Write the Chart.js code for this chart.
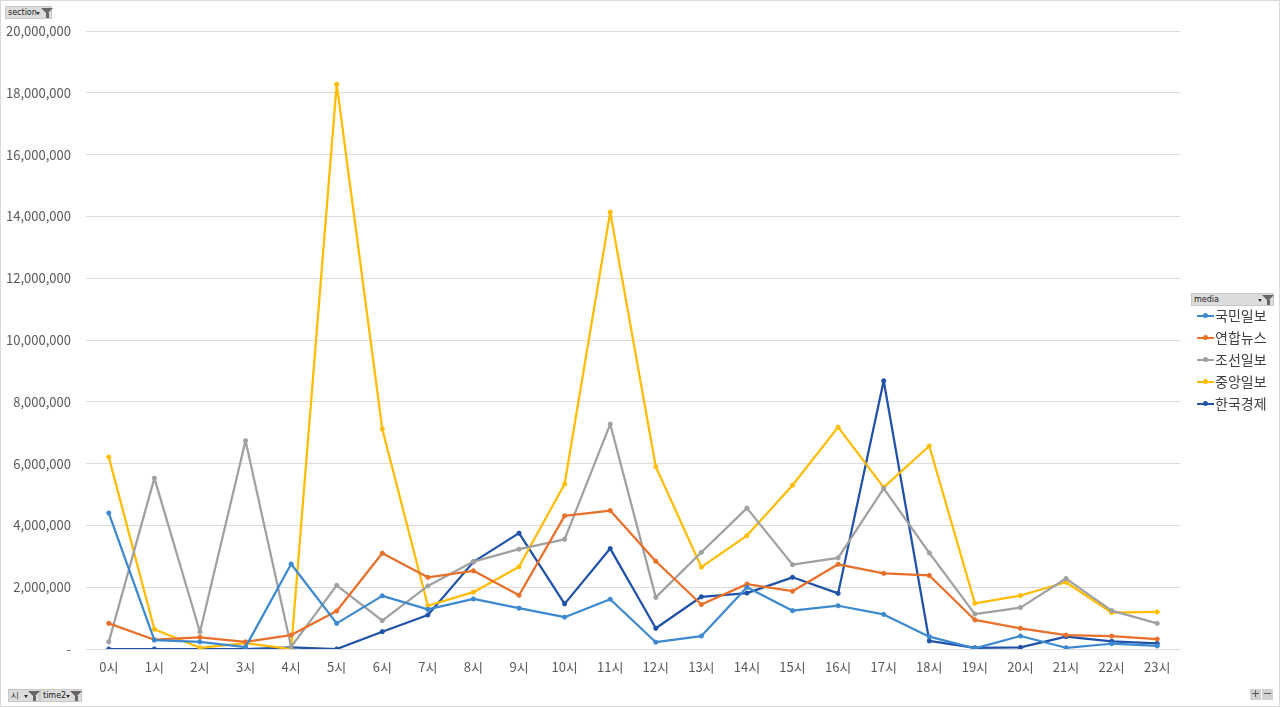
<!DOCTYPE html>
<html><head><meta charset="utf-8">
<script src="https://cdn.jsdelivr.net/npm/chart.js@4.4.1/dist/chart.umd.min.js"></script>
<style>
html,body{margin:0;padding:0;background:#fff;}
#wrap{position:relative;width:1280px;height:707px;box-sizing:border-box;border:1px solid #d9d9d9;overflow:hidden;font-family:"Noto Sans CJK KR","Noto Sans",sans-serif;}
canvas{position:absolute;left:-1px;top:-1px;}
.btn{position:absolute;height:13px;background:#dcdcdc;border:1px solid #c8c8c8;box-sizing:border-box;font-size:8px;line-height:11px;color:#222;padding-left:2px;font-family:"DejaVu Sans",sans-serif;}
.btn .dd{position:absolute;top:5px;width:0;height:0;border-left:2px solid transparent;border-right:2px solid transparent;border-top:3px solid #333;}
.btn .fn{position:absolute;top:1px;width:0;height:0;border-left:6px solid transparent;border-right:6px solid transparent;border-top:6px solid #666;}
.btn .fs{position:absolute;top:6px;width:3px;height:5px;background:#666;}
#legend{position:absolute;left:1192px;top:303px;font-size:14px;color:#404040;}
.li{position:relative;height:22px;line-height:22px;padding-left:22px;white-space:nowrap;}
.li .ln{position:absolute;left:4px;top:11px;width:17px;height:2px;}
.li .dt{position:absolute;left:10px;top:9px;width:5px;height:5px;border-radius:50%;}
.pm{position:absolute;top:688px;width:11px;height:11px;background:#d0d0d0;font-size:11px;line-height:10px;text-align:center;color:#555;font-family:"DejaVu Sans",sans-serif;}
</style></head>
<body><div id="wrap">
<canvas id="c" width="1280" height="707"></canvas>
<div class="btn" style="left:4px;top:5px;width:47px;">section<span class="dd" style="left:30px"></span><span class="fn" style="left:35px"></span><span class="fs" style="left:39.5px"></span></div>
<div class="btn" style="left:1190px;top:292px;width:83px;">media<span class="dd" style="left:66px"></span><span class="fn" style="left:70px"></span><span class="fs" style="left:74.5px"></span></div>
<div class="btn" style="left:7px;top:688px;width:32px;">시<span class="dd" style="left:15px"></span><span class="fn" style="left:19px"></span><span class="fs" style="left:23.5px"></span></div>
<div class="btn" style="left:39px;top:688px;width:42px;">time2<span class="dd" style="left:25px"></span><span class="fn" style="left:29px"></span><span class="fs" style="left:33.5px"></span></div>
<div class="pm" style="left:1249px">+</div><div class="pm" style="left:1261px">−</div>
<div id="legend"></div>
</div>
<script>
const categories = ['0시','1시','2시','3시','4시','5시','6시','7시','8시','9시','10시','11시','12시','13시','14시','15시','16시','17시','18시','19시','20시','21시','22시','23시'];
const seriesNames = ['국민일보','연합뉴스','조선일보','중앙일보','한국경제'];
const kookmin = [4400000,290000,230000,60000,2750000,830000,1720000,1280000,1620000,1320000,1030000,1610000,220000,420000,2000000,1240000,1400000,1120000,400000,20000,420000,40000,170000,100000];
const yonhap = [830000,300000,380000,230000,450000,1230000,3100000,2320000,2530000,1740000,4310000,4480000,2840000,1440000,2100000,1870000,2740000,2450000,2380000,940000,670000,450000,420000,320000];
const chosun = [230000,5530000,550000,6740000,70000,2060000,920000,2040000,2830000,3230000,3550000,7280000,1670000,3130000,4560000,2730000,2950000,5200000,3110000,1130000,1340000,2280000,1240000,830000];
const joongang = [6210000,640000,40000,190000,0,18280000,7120000,1400000,1840000,2660000,5340000,14140000,5900000,2650000,3670000,5300000,7180000,5230000,6570000,1480000,1730000,2160000,1180000,1200000];
const hankyung = [0,0,0,0,50000,0,560000,1100000,2820000,3750000,1460000,3250000,670000,1690000,1810000,2320000,1800000,8680000,260000,40000,50000,400000,250000,180000];
const yTicks = [0,2000000,4000000,6000000,8000000,10000000,12000000,14000000,16000000,18000000,20000000];

const colors = ['#3D89D0','#E8702A','#A0A0A0','#FFBC00','#1F52A8'];
const allData = [kookmin, yonhap, chosun, joongang, hankyung];

const datasets = seriesNames.map((n,i)=>({
  label:n, data:allData[i], borderColor:colors[i], backgroundColor:colors[i],
  borderWidth:2.25, borderJoinStyle:'round', borderCapStyle:'round',
  pointRadius:2.1, pointHoverRadius:2.1, pointBorderWidth:1, tension:0, fill:false
}));

const lg = document.getElementById('legend');
seriesNames.forEach((n,i)=>{
  const d=document.createElement('div'); d.className='li';
  d.innerHTML='<span class="ln" style="background:'+colors[i]+'"></span><span class="dt" style="background:'+colors[i]+'"></span>'+n;
  lg.appendChild(d);
});

new Chart(document.getElementById('c'),{
  type:'line',
  data:{labels:categories, datasets:datasets},
  options:{
    responsive:false, animation:false, devicePixelRatio:1,
    layout:{padding:{top:31,right:100,bottom:0,left:0}},
    plugins:{legend:{display:false},tooltip:{enabled:false}},
    scales:{
      x:{
        offset:true,
        grid:{display:false,drawTicks:false},
        border:{display:false},
        ticks:{padding:10,color:'#595959',font:{family:'"Noto Sans CJK KR"',size:13},maxRotation:0,autoSkip:false},
        afterFit:(s)=>{s.height=58;}
      },
      y:{
        min:0,max:20000000,
        afterBuildTicks:(s)=>{s.ticks=yTicks.map(v=>({value:v}));},
        grid:{color:'#dcdcdc',lineWidth:1,drawTicks:false},
        border:{display:false},
        ticks:{padding:15,color:'#595959',font:{family:'"Noto Sans CJK KR"',size:13},
          callback:(v)=> v===0 ? '-' : Number(v).toLocaleString('en-US')},
        afterFit:(s)=>{s.width=86;}
      }
    }
  }
});
</script>
</body></html>
